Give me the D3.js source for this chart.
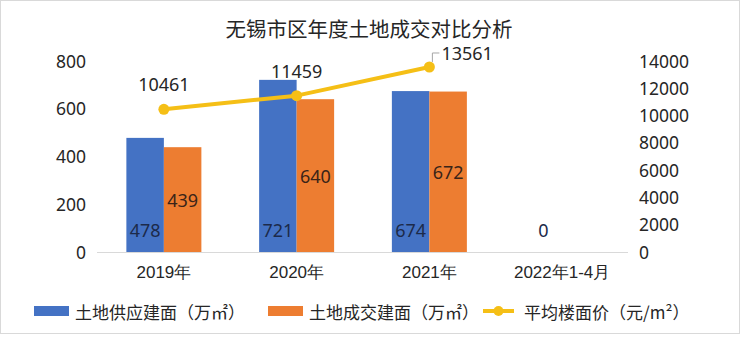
<!DOCTYPE html>
<html><head><meta charset="utf-8">
<script src="https://cdn.jsdelivr.net/npm/d3@7"></script>
<style>
html,body{margin:0;padding:0;background:#fff;}
svg{display:block;font-family:"Noto Sans CJK SC","Noto Sans",sans-serif;}
</style></head>
<body><svg id="c" width="740" height="337"></svg>
<script>
const categories = ["2019年", "2020年", "2021年", "2022年1-4月"];
const supplyArea = [478, 721, 674, 0];        // 土地供应建面（万㎡）
const dealArea = [439, 640, 672, null];       // 土地成交建面（万㎡）
const avgPrice = [10461, 11459, 13561, null]; // 平均楼面价（元/m²）
const leftTicks = [0, 200, 400, 600, 800];
const rightTicks = [0, 2000, 4000, 6000, 8000, 10000, 12000, 14000];
const seriesNames = ["土地供应建面（万㎡）", "土地成交建面（万㎡）", "平均楼面价（元/m²）"];
const title = "无锡市区年度土地成交对比分析";

const colors = {blue: "#4472C4", orange: "#ED7D31", yellow: "#F5BF16", text: "#262626"};
const svg = d3.select("#c");
const W = 740, H = 337;
const plot = {left: 97, right: 628, top: 61, bottom: 252};
const numFont = "'Noto Sans', sans-serif";

svg.append("rect").attr("x", 0.5).attr("y", 0.5).attr("width", W - 1).attr("height", 333)
  .attr("fill", "#fff").attr("stroke", "#d9d9d9");

svg.append("text").attr("x", 369).attr("y", 28).attr("text-anchor", "middle")
  .attr("dominant-baseline", "central").attr("font-size", 20.5).attr("fill", colors.text).text(title);

const x = d3.scaleBand().domain(categories).range([plot.left, plot.right]).paddingInner(0).paddingOuter(0);
const yL = d3.scaleLinear().domain([0, 800]).range([plot.bottom, plot.top]);
const yR = d3.scaleLinear().domain([0, 14000]).range([plot.bottom, plot.top]);
const barW = 37.5;

// left axis labels
const axL = d3.axisLeft(yL).tickValues(leftTicks).tickFormat(d3.format("d")).tickSize(0).tickPadding(0);
const gL = svg.append("g").attr("transform", "translate(86,0)").call(axL);
gL.select(".domain").remove();
gL.selectAll("text").attr("font-size", 17.5).attr("fill", colors.text)
  .attr("font-family", numFont).attr("dy", "0.35em");

const axR = d3.axisRight(yR).tickValues(rightTicks).tickFormat(d3.format("d")).tickSize(0).tickPadding(0);
const gR = svg.append("g").attr("transform", "translate(639,0)").call(axR);
gR.select(".domain").remove();
gR.selectAll("text").attr("font-size", 17.5).attr("fill", colors.text)
  .attr("font-family", numFont).attr("dy", "0.35em");

// bars
const cx = c => x(c) + x.bandwidth() / 2 + 0.5;
svg.append("g").selectAll("rect").data(categories.map((c, i) => ({c, v: supplyArea[i]})).filter(d => d.v))
  .join("rect").attr("x", d => cx(d.c) - barW).attr("width", barW)
  .attr("y", d => yL(d.v)).attr("height", d => yL(0) - yL(d.v)).attr("fill", colors.blue);
svg.append("g").selectAll("rect").data(categories.map((c, i) => ({c, v: dealArea[i]})).filter(d => d.v))
  .join("rect").attr("x", d => cx(d.c)).attr("width", barW)
  .attr("y", d => yL(d.v)).attr("height", d => yL(0) - yL(d.v)).attr("fill", colors.orange);

// baseline
svg.append("line").attr("x1", plot.left).attr("x2", plot.right).attr("y1", yL(0) + 0.5).attr("y2", yL(0) + 0.5)
  .attr("stroke", "#d9d9d9").attr("stroke-width", 1.2);

// category labels
const axB = d3.axisBottom(x).tickSize(0).tickPadding(0);
const gB = svg.append("g").attr("transform", "translate(0.5,272)").call(axB);
gB.select(".domain").remove();
gB.selectAll("text").attr("font-size", 17).attr("fill", colors.text).attr("dy", "0.35em");

// bar labels
svg.append("g").selectAll("text").data(categories.map((c, i) => ({c, v: supplyArea[i]})).filter(d => d.v !== null))
  .join("text").attr("x", d => cx(d.c) - barW / 2).attr("y", 230).attr("text-anchor", "middle")
  .attr("dominant-baseline", "central").attr("font-size", 18).attr("font-family", numFont)
  .attr("fill", "#1c2a4a").text(d => d.v);
svg.append("g").selectAll("text").data(categories.map((c, i) => ({c, v: dealArea[i]})).filter(d => d.v !== null))
  .join("text").attr("x", d => cx(d.c) + barW / 2).attr("y", d => (yL(d.v) + yL(0)) / 2).attr("text-anchor", "middle")
  .attr("dominant-baseline", "central").attr("font-size", 18).attr("font-family", numFont)
  .attr("fill", "#3a2418").text(d => d.v);

// line
const pts = categories.map((c, i) => ({c, v: avgPrice[i]})).filter(d => d.v !== null);
svg.append("path").datum(pts).attr("fill", "none").attr("stroke", colors.yellow).attr("stroke-width", 4)
  .attr("stroke-linejoin", "round").attr("d", d3.line().x(d => cx(d.c)).y(d => yR(d.v)));
svg.append("g").selectAll("circle").data(pts).join("circle")
  .attr("cx", d => cx(d.c)).attr("cy", d => yR(d.v)).attr("r", 5.5).attr("fill", colors.yellow);

// line labels
pts.forEach((d, i) => {
  const px = cx(d.c), py = yR(d.v);
  if (i === pts.length - 1) {
    svg.append("path").attr("d", `M${px + 3},${py - 5}V${py - 14}H${px + 10}`)
      .attr("fill", "none").attr("stroke", "#a6a6a6").attr("stroke-width", 1);
    svg.append("text").attr("x", px + 12).attr("y", py - 14).attr("dominant-baseline", "central")
      .attr("font-size", 18).attr("font-family", numFont).attr("fill", colors.text).text(d.v);
  } else {
    svg.append("text").attr("x", px).attr("y", py - 25).attr("text-anchor", "middle").attr("dominant-baseline", "central")
      .attr("font-size", 18).attr("font-family", numFont).attr("fill", colors.text).text(d.v);
  }
});

// legend
const legY = 311;
const leg = [
  {name: seriesNames[0], type: "rect", color: colors.blue, x: 34},
  {name: seriesNames[1], type: "rect", color: colors.orange, x: 268},
  {name: seriesNames[2], type: "line", color: colors.yellow, x: 483}
];
leg.forEach(l => {
  if (l.type === "rect") {
    svg.append("rect").attr("x", l.x).attr("y", legY - 5).attr("width", 35).attr("height", 10).attr("fill", l.color);
  } else {
    svg.append("line").attr("x1", l.x).attr("x2", l.x + 31).attr("y1", legY).attr("y2", legY)
      .attr("stroke", l.color).attr("stroke-width", 4);
    svg.append("circle").attr("cx", l.x + 15.5).attr("cy", legY).attr("r", 5).attr("fill", l.color);
  }
  svg.append("text").attr("x", l.x + 41).attr("y", legY).attr("dominant-baseline", "central")
    .attr("font-size", 17).attr("fill", colors.text).text(l.name);
});
</script></body></html>
